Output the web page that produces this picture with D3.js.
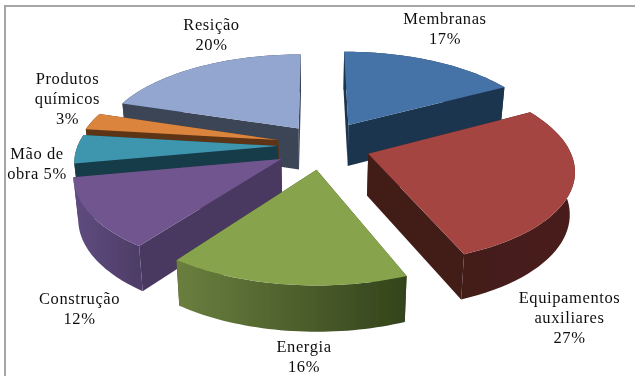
<!DOCTYPE html>
<html><head><meta charset="utf-8">
<script src="https://cdn.jsdelivr.net/npm/d3@7/dist/d3.min.js"></script>
<style>html,body{margin:0;padding:0;background:#fff}svg{display:block}
text{font-family:"Liberation Serif",serif;font-size:16.5px;fill:#111;letter-spacing:.6px}</style>
</head><body><svg id="c" width="635" height="376"></svg>
<script>
const categories=["Membranas","Equipamentos auxiliares","Energia","Construção","Mão de obra","Produtos químicos","Resição"];
const values=[17,27,16,12,5,3,20];
const labelLines=[["Membranas","17%"],["Equipamentos","auxiliares","27%"],["Energia","16%"],["Construção","12%"],["Mão de","obra 5%"],["Produtos","químicos","3%"],["Resição","20%"]];
const offsetX=[.1725,.262,.0074,-.164,-.185,-.185,-.084];
const offsetY=[.196,-.13,-.298,-.186,-.045,.022,.155];
const topColors=["#4572a7","#a54542","#87a44e","#70558e","#3e96ae","#db843d","#92a6cf"];
const wallColors=["#1f354f","#431c19","#6a7f3f","#5f4c80","#173a48","#5d3514","#3a4457"];
const wallEnd=["#1f354f","#4a1f1c","#33431b","#4e3d67","#173a48","#5d3514","#3a4457"];
const radialColors=["#1f354f","#431c19","#3a4a20","#4a3860","#173a48","#5d3514","#3a4457"];
const labelX=[445,569.5,304,79.5,37,67.5,211.5];
const labelY=[24,303,352,304,159,84,30];

const W=635,H=376,cx=315,cy=142,RX=199,RY=89,K=.15,DEPTH=41.5,CONVERGE=.98;
const svg=d3.select("#c");
const defs=svg.append("defs");
defs.append("filter").attr("id","soft").attr("filterUnits","userSpaceOnUse").attr("x",0).attr("y",0).attr("width",W).attr("height",H)
  .append("feGaussianBlur").attr("stdDeviation",.35);
const proj=(X,Y)=>{const s=1/(1+K*Y);return [cx+RX*X*s,cy-RY*Y*s];};
const drop=Y=>DEPTH/(1+.08*Y);
const pie=d3.pie().sort(null).startAngle(0).endAngle(2*Math.PI)(values);
const slices=pie.map((p,i)=>{
  const mid=(p.startAngle+p.endAngle)/2;
  const pt=(r,a)=>{const X=offsetX[i]+r*Math.sin(a),Y=offsetY[i]+r*Math.cos(a);const q=proj(X,Y);return {x:q[0],y:q[1],d:drop(Y)};};
  const arcAngles=d3.range(0,41).map(j=>p.startAngle+(p.endAngle-p.startAngle)*j/40);
  return {i,mid,tip:pt(0,0),arc:arcAngles.map(a=>pt(1,a))};
});
const line=d3.line().x(d=>d.x).y(d=>d.y);
const down=d=>({x:cx+(d.x-cx)*CONVERGE,y:d.y+d.d});
const order=slices.slice().sort((a,b)=>Math.cos(b.mid)-Math.cos(a.mid));
svg.append("path").attr("d",`M5 376V6H${W}`).attr("fill","none").attr("stroke","#a6a6a6").attr("stroke-width",2);
const g=svg.append("g").attr("filter","url(#soft)");
order.forEach(s=>{
  const i=s.i,a=s.arc,first=a[0],last=a[a.length-1];
  const grp=g.append("g").attr("class","slice");
  const id="w"+i;
  const xs=d3.extent(a,d=>d.x);
  const lg=defs.append("linearGradient").attr("id",id).attr("gradientUnits","userSpaceOnUse").attr("x1",xs[0]).attr("x2",xs[1]).attr("y1",0).attr("y2",0);
  lg.append("stop").attr("offset",0).attr("stop-color",wallColors[i]);
  lg.append("stop").attr("offset",1).attr("stop-color",wallEnd[i]);
  [[s.tip,first],[s.tip,last]].forEach(e=>{
    grp.append("path").attr("d",line([e[0],e[1],down(e[1]),down(e[0])])+"Z").attr("fill",radialColors[i]);
  });
  grp.append("path").attr("d",line(a.concat(a.map(down).reverse()))+"Z").attr("fill",`url(#${id})`);
  grp.append("path").attr("d",line([s.tip,...a])+"Z").attr("fill",topColors[i]);
});
const tg=svg.append("g").attr("filter","url(#soft)");
labelLines.forEach((l,i)=>{
  const t=tg.append("text").attr("text-anchor","middle").attr("x",labelX[i]).attr("y",labelY[i]);
  l.forEach((w,j)=>t.append("tspan").attr("x",labelX[i]).attr("dy",j?20:0).text(w));
});
</script></body></html>
